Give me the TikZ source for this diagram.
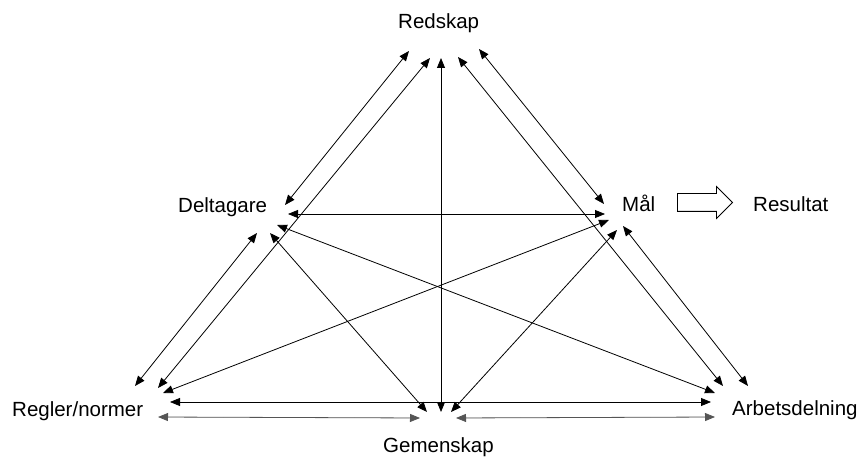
\documentclass[tikz,border=0pt]{standalone}
\usepackage{fontspec}
\setmainfont{Liberation Sans}
\usetikzlibrary{arrows.meta,shapes.arrows}
\definecolor{lgray}{RGB}{85,85,85}
\tikzset{
  lbl/.style={inner sep=0pt,font=\fontsize{20.5bp}{24bp}\selectfont,anchor=base west},
  link/.style={line width=0.8bp,{Triangle[length=10bp,width=8bp]}-{Triangle[length=10bp,width=8bp]}},
  glink/.style={link,draw=lgray,fill=lgray},
}
\begin{document}
\begin{tikzpicture}[x=1bp,y=-1bp]
\useasboundingbox (0,0) rectangle (860,457);
% labels
\node[lbl] (red) at (398,29) {Redskap};
\node[lbl] (del) at (178,213) {Deltagare};
\node[lbl] (mal) at (622,212) {Mål};
\node[lbl] (res) at (753,212) {Resultat};
\node[lbl] (reg) at (12,416) {Regler/normer};
\node[lbl] (arb) at (732,415) {Arbetsdelning};
\node[lbl] (gem) at (383,452) {Gemenskap};
% hollow arrow
\node[draw,single arrow,line width=0.8bp,minimum height=55bp,minimum width=31bp,
  single arrow head extend=7bp,single arrow tip angle=90,inner xsep=0pt,inner ysep=8.5bp,
  text width=0pt] (ha) at (700.5,202.5) {};
% endpoints: Redskap
\coordinate (rD) at (409,51);
\coordinate (rR) at (430,58);
\coordinate (rG) at (441,58);
\coordinate (rA) at (458,57);
\coordinate (rM) at (479,49);
% Deltagare
\coordinate (dR) at (285,205);
\coordinate (dM) at (288,214);
\coordinate (dA) at (277,225);
\coordinate (dN) at (257,233);
\coordinate (dG) at (270,233);
% Mål
\coordinate (mR) at (604,204);
\coordinate (mD) at (605,214);
\coordinate (mN) at (609,220);
\coordinate (mG) at (617,230);
\coordinate (mA) at (623,226);
% Regler/normer
\coordinate (nD) at (135,386);
\coordinate (nR) at (158,388);
\coordinate (nM) at (163,393);
\coordinate (nA) at (170,402);
\coordinate (nG) at (158,417);
% Arbetsdelning
\coordinate (aR) at (723,386);
\coordinate (aM) at (748,386);
\coordinate (aD) at (715,393);
\coordinate (aN) at (711,402);
\coordinate (aG) at (715,417);
% Gemenskap
\coordinate (gD) at (427,412);
\coordinate (gR) at (441,412);
\coordinate (gM) at (451,412);
\coordinate (gN) at (420,418);
\coordinate (gA) at (456,418);
% connectors
\draw[link] (rD) -- (dR);
\draw[link] (rR) -- (nR);
\draw[link] (rG) -- (gR);
\draw[link] (rA) -- (aR);
\draw[link] (rM) -- (mR);
\draw[link] (dM) -- (mD);
\draw[link] (dA) -- (aD);
\draw[link] (dN) -- (nD);
\draw[link] (dG) -- (gD);
\draw[link] (mN) -- (nM);
\draw[link] (mG) -- (gM);
\draw[link] (mA) -- (aM);
\draw[link] (nA) -- (aN);
\draw[glink] (nG) -- (gN);
\draw[glink] (gA) -- (aG);
\end{tikzpicture}
\end{document}
